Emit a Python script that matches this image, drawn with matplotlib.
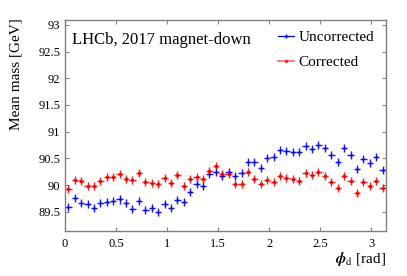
import numpy as np
import matplotlib
matplotlib.use("Agg")
import matplotlib.pyplot as plt
from matplotlib.lines import Line2D

plt.rcParams["font.family"] = ["Liberation Serif", "DejaVu Serif"]
plt.rcParams["mathtext.fontset"] = "stix"

# ── data: mean mass per phi_d bin (50 bins over 0..pi) ─────────────────
N_BINS = 50
phi = (np.arange(N_BINS) + 0.5) * np.pi / N_BINS
phi_halfwidth = np.pi / N_BINS / 2

uncorrected = [89.59, 89.76, 89.66, 89.65, 89.57, 89.67, 89.68, 89.70, 89.73, 89.67,
               89.56, 89.71, 89.53, 89.58, 89.50, 89.65, 89.58, 89.72, 89.69, 89.87,
               90.02, 89.99, 90.20, 90.25, 90.17, 90.25, 90.17, 90.22, 90.44, 90.44,
               90.32, 90.50, 90.52, 90.65, 90.64, 90.62, 90.62, 90.74, 90.67, 90.75,
               90.70, 90.57, 90.44, 90.69, 90.56, 90.31, 90.48, 90.41, 90.52, 90.28]
corrected = [89.92, 90.09, 90.07, 89.98, 89.99, 90.07, 90.15, 90.15, 90.20, 90.12,
             90.09, 90.23, 90.05, 90.04, 90.02, 90.14, 90.04, 90.19, 89.99, 90.11,
             90.15, 90.12, 90.26, 90.36, 90.20, 90.20, 90.02, 90.02, 90.25, 90.12,
             90.02, 90.09, 90.06, 90.17, 90.14, 90.11, 90.08, 90.23, 90.19, 90.25,
             90.17, 90.06, 89.94, 90.17, 90.08, 89.85, 90.06, 89.98, 90.08, 89.95]
mass_err = 0.075

BLUE = "#0000ff"
RED = "#ff0000"

fig = plt.figure(figsize=(4.07, 2.76), dpi=100)
ax = fig.add_axes([0.160, 0.163, 0.788, 0.7645])

for vals, col, mk, ms in [(uncorrected, BLUE, "+", 3.5), (corrected, RED, "s", 2.0)]:
    # soft halo, then the sharper core
    ax.errorbar(phi, vals, yerr=mass_err, xerr=phi_halfwidth, fmt="none",
                ecolor=col, elinewidth=1.8, alpha=0.25, capsize=0)
    ax.errorbar(phi, vals, yerr=mass_err, xerr=phi_halfwidth, fmt=mk, color=col,
                ms=ms, mew=0.9, ecolor=col, elinewidth=0.7, alpha=0.85, capsize=0)

ax.set_xlim(0, np.pi)
ax.set_ylim(89.14, 93.09)
ax.set_xticks([0, 0.5, 1, 1.5, 2, 2.5, 3])
ax.set_xticklabels(["0", "0.5", "1", "1.5", "2", "2.5", "3"])
ax.set_yticks([89.5, 90, 90.5, 91, 91.5, 92, 92.5, 93])
ax.set_yticklabels(["89.5", "90", "90.5", "91", "91.5", "92", "92.5", "93"])
ax.tick_params(direction="in", top=True, right=True, length=3, width=0.8,
               color="#808080", labelsize=9)
ax.tick_params(axis="y", pad=3.5)
ax.tick_params(axis="x", pad=5)
for s in ax.spines.values():
    s.set_color("#808080")
    s.set_linewidth(1.0)

ax.set_ylabel("Mean mass [GeV]", fontsize=11)
ax.yaxis.set_label_coords(-0.133, 0.745)
ax.set_xlabel(r"$\boldsymbol{\phi}_{\rm d}$ [rad]", fontsize=11, ha="right")
ax.xaxis.set_label_coords(1.0, -0.09)

ax.text(0.022, 0.945, "LHCb, 2017 magnet-down", transform=ax.transAxes,
        fontsize=12, ha="left", va="top")

handles = [
    Line2D([], [], color=BLUE, marker="+", ms=3.5, lw=0.9, label="Uncorrected"),
    Line2D([], [], color=RED, marker="s", ms=2.0, lw=1.2, alpha=0.6, label="Corrected"),
]
ax.legend(handles=handles, loc="upper left", bbox_to_anchor=(0.665, 0.95),
          frameon=False, fontsize=11, handlelength=1.0, handletextpad=0.3,
          labelspacing=0.75, borderpad=0, borderaxespad=0)

fig.savefig("out.png", dpi=100, facecolor="white")
